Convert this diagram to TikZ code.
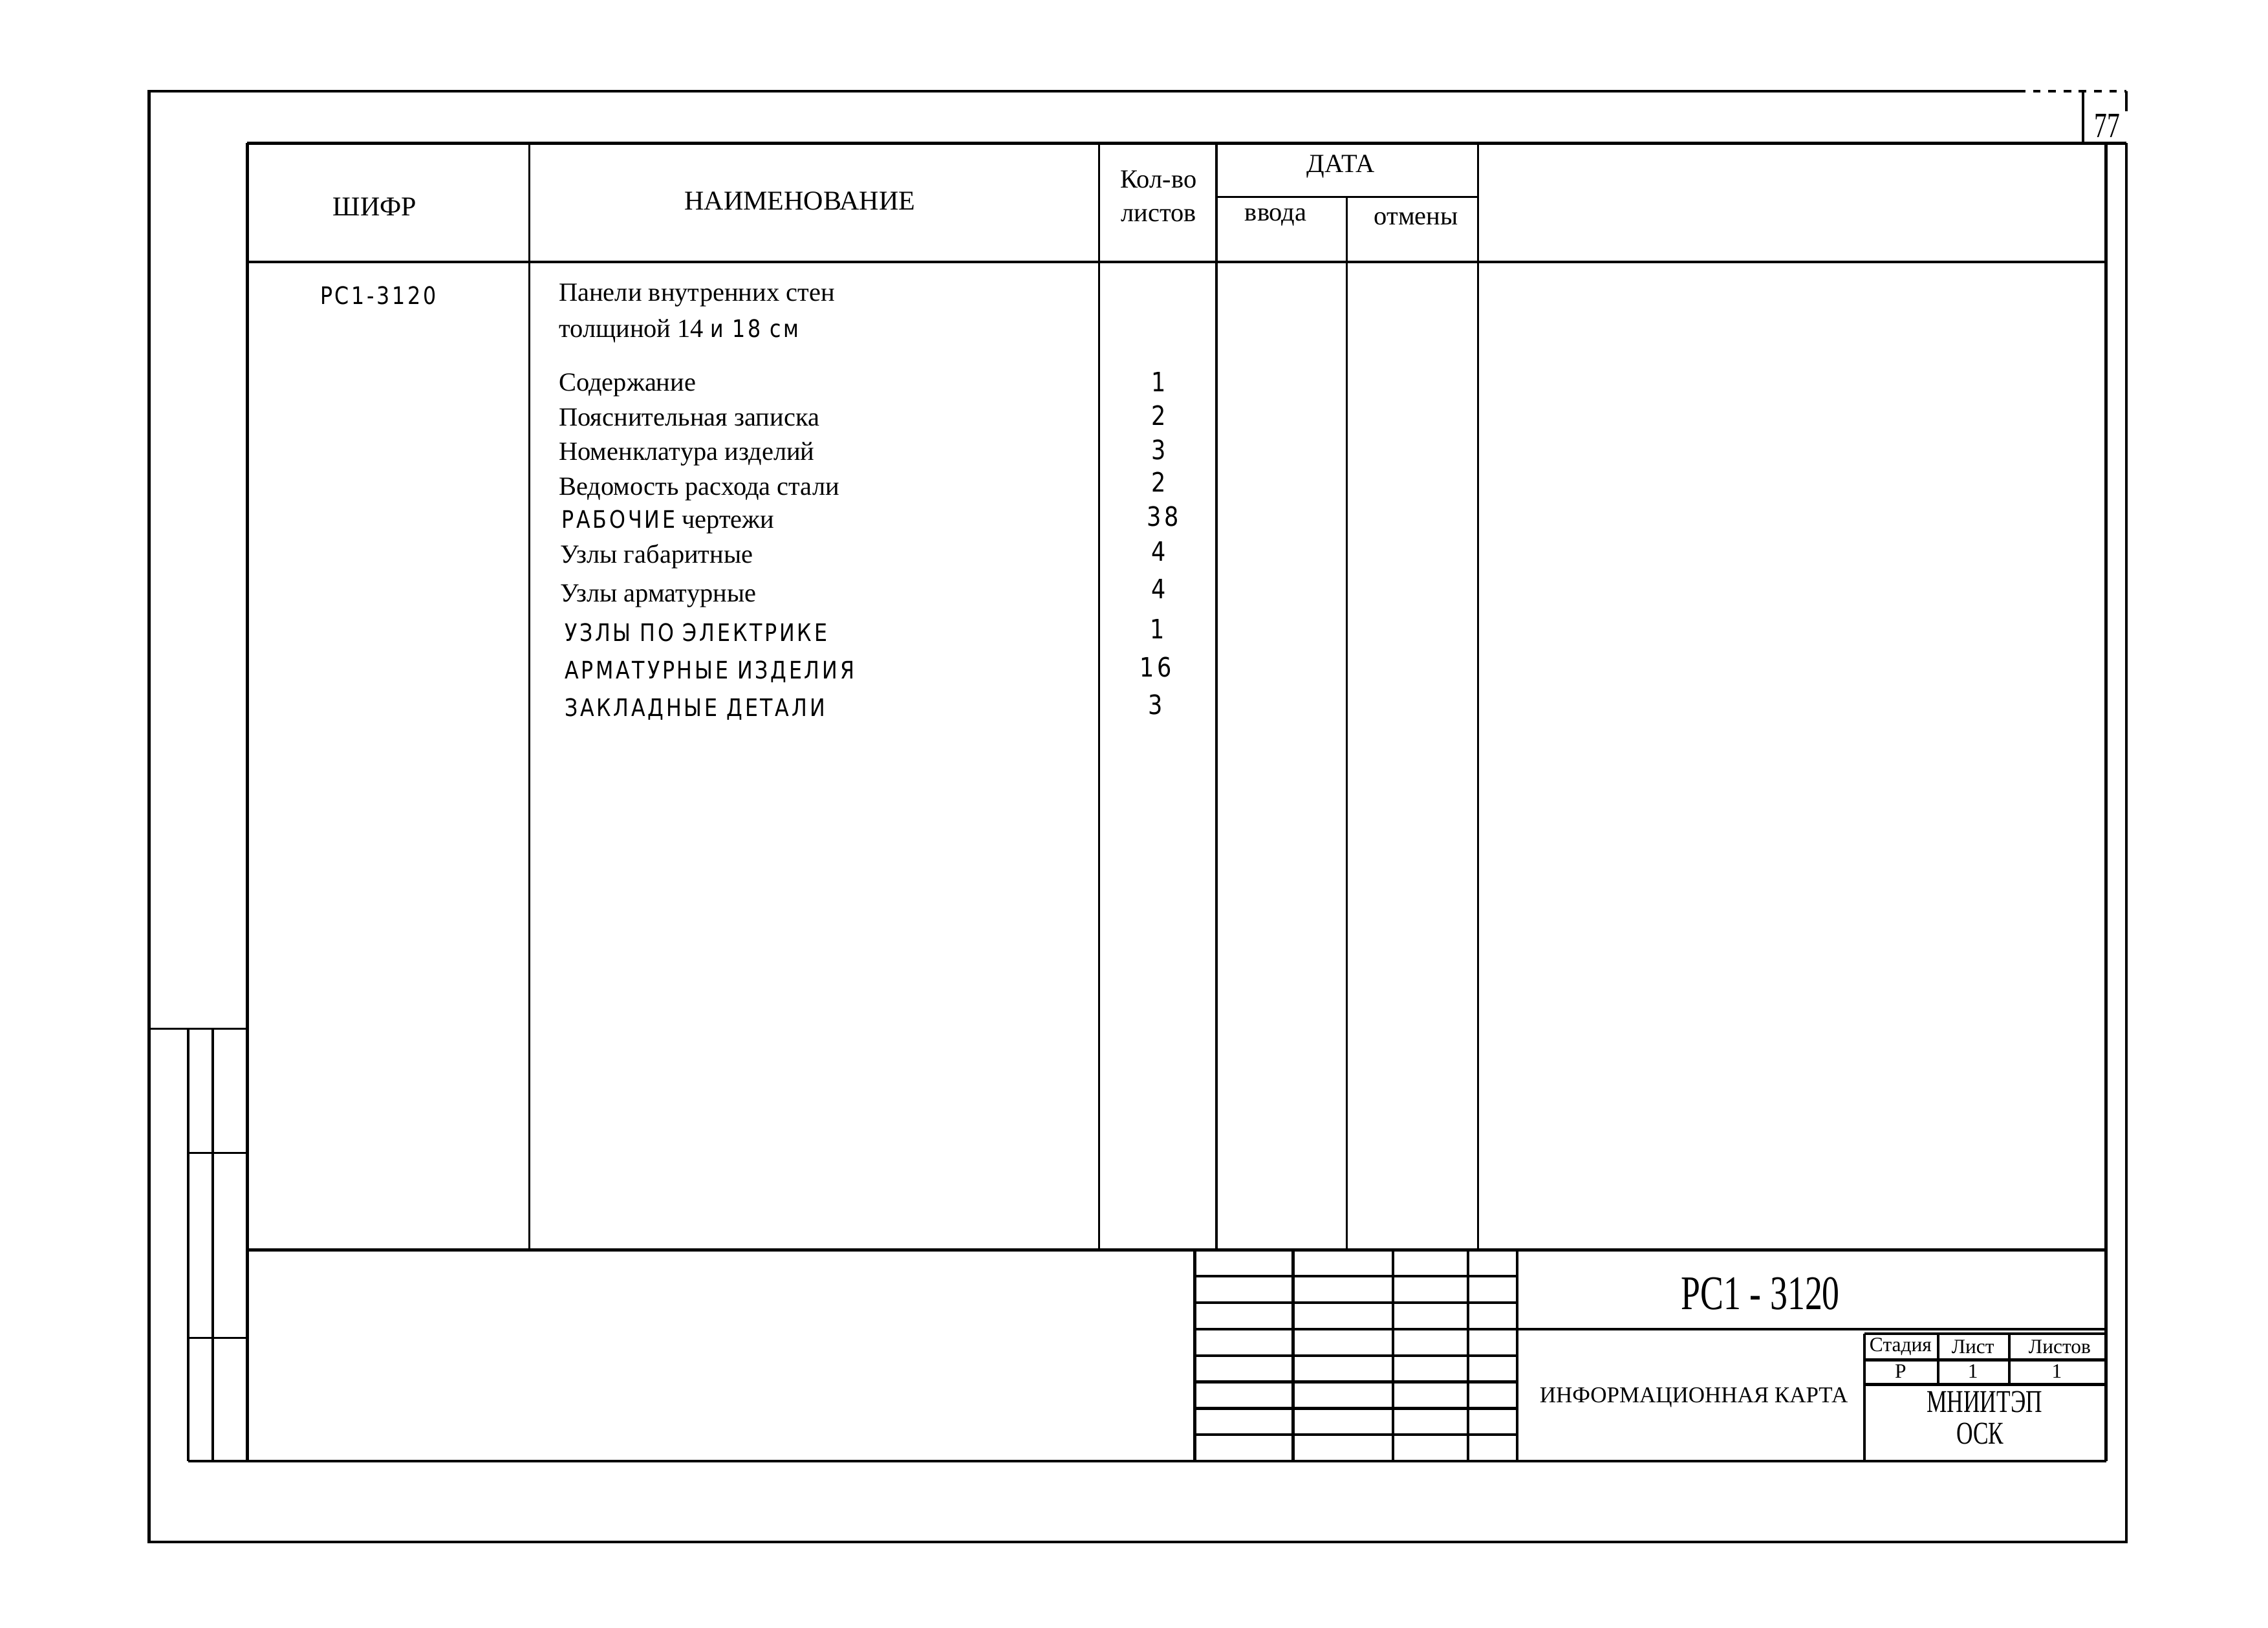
\documentclass[tikz,border=0pt]{standalone}
\usepackage{fontspec}
\setmainfont{Liberation Serif}
\newfontfamily\handfont[LetterSpace=10,FakeStretch=0.85]{DejaVu Sans}
\newfontfamily\narrowfont[FakeStretch=0.72]{Liberation Serif}
\newcommand\hw{\handfont\fontsize{9.5}{11}\selectfont}
\usetikzlibrary{positioning}

\begin{document}
\begin{tikzpicture}[x=0.02cm,y=-0.02cm,
    frame/.style={line width=1.1pt},
    thin/.style={line width=0.8pt},
    head/.style={font=\fontsize{10.3}{12}\selectfont,inner sep=0pt},
    item/.style={anchor=west,font=\fontsize{10.3}{12}\selectfont,inner sep=0pt,text height=1.6ex,text depth=.3ex},
    hand/.style={anchor=west,font=\hw,inner sep=0pt,text height=1.6ex,text depth=.3ex},
    num/.style={font=\handfont\fontsize{10.5}{12}\selectfont,inner sep=0pt},
    small/.style={font=\fontsize{8}{9}\selectfont,inner sep=0pt},
    org/.style={font=\narrowfont\fontsize{12.5}{14}\selectfont,inner sep=0pt}]
      \useasboundingbox (0,0) rectangle (1568,1125);

      % outer frame
      \draw[frame] (1395,63) -- (103,63) -- (103,1066) -- (1470,1066) -- (1470,99);
      \draw[frame,dashed] (1395,63) -- (1470,63);
      \draw[frame] (1470,63) -- (1470,77);
      \draw[frame] (1440,63) -- (1440,99);
      \node[font=\narrowfont\fontsize{14}{16}\selectfont,inner sep=0pt] (sheet) at (1457,87) {77};

      % table frame
      \draw[frame] (171,99) -- (1470,99);
      \draw[frame] (171,99) -- (171,1010);
      \draw[frame] (1456,99) -- (1456,1010);
      \draw[frame] (171,181) -- (1456,181);
      \foreach \x in {366,760,841,1022}
        \draw[thin] (\x,99) -- (\x,864);
      \draw[thin] (931,136) -- (931,864);
      \draw[thin] (841,136) -- (1022,136);

      % left stamp
      \draw[thin] (103,711) -- (171,711);
      \draw[frame] (130,711) -- (130,1010);
      \draw[frame] (147,711) -- (147,1010);
      \draw[thin] (130,797) -- (171,797);
      \draw[thin] (130,925) -- (171,925);

      % title block
      \draw[frame] (171,864) -- (1456,864);
      \draw[frame] (130,1010) -- (1456,1010);
      \foreach \x in {826,894,963,1015,1049}
        \draw[frame] (\x,864) -- (\x,1010);
      \foreach \k in {1,...,7}
        \draw[frame] (826,864+\k*18.25) -- (1049,864+\k*18.25);
      \draw[frame] (1049,918.75) -- (1456,918.75);
      \draw[frame] (1289,922) -- (1456,922);
      \draw[frame] (1289,940) -- (1456,940);
      \draw[frame] (1289,957) -- (1456,957);
      \draw[frame] (1289,922) -- (1289,1010);
      \draw[frame] (1340,922) -- (1340,957);
      \draw[frame] (1389,922) -- (1389,957);

      % header
      \node[head,font=\fontsize{10.7}{12}\selectfont] (shifr) at (259,143) {ШИФР};
      \node[head,font=\fontsize{10.7}{12}\selectfont] (naim) at (553,139) {НАИМЕНОВАНИЕ};
      \node[head] (kolvo) at (801,124) {Кол-во};
      \node[head] (listov) at (801,149) {листов};
      \node[head] (data) at (927,115) {ДАТА};
      \node[head] (vvoda) at (882,150) {ввода};
      \node[head] (otmeny) at (979,151) {отмены};

      % contents
      \node[hand] (code) at (221,205) {РС1-3120};
      \node[item] (r1) at (386,203) {Панели внутренних стен};
      \node[item] (r2) at (386,228) {толщиной 14 {\hw и 18 см}};
      \node[item] (r3) at (386,265) {Содержание};
      \node[item] (r4) at (386,289) {Пояснительная записка};
      \node[item] (r5) at (386,313) {Номенклатура изделий};
      \node[item] (r6) at (386,337) {Ведомость расхода стали};
      \node[item] (r7) at (388,360) {{\hw РАБОЧИЕ} чертежи};
      \node[item] (r8) at (387,384) {Узлы габаритные};
      \node[item] (r9) at (387,411) {Узлы арматурные};
      \node[hand] (r10) at (390,438) {УЗЛЫ ПО ЭЛЕКТРИКЕ};
      \node[hand] (r11) at (390,464) {АРМАТУРНЫЕ ИЗДЕЛИЯ};
      \node[hand] (r12) at (390,490) {ЗАКЛАДНЫЕ ДЕТАЛИ};
      \node[num] (n3) at (801,264) {1};
      \node[num] (n4) at (801,287) {2};
      \node[num] (n5) at (801,311) {3};
      \node[num] (n6) at (801,333) {2};
      \node[num] (n7) at (804,357) {38};
      \node[num] (n8) at (801,381) {4};
      \node[num] (n9) at (801,407) {4};
      \node[num] (n10) at (800,435) {1};
      \node[num] (n11) at (799,461) {16};
      \node[num] (n12) at (799,487) {3};

      % stamp texts
      \node[font=\narrowfont\fontsize{19}{21}\selectfont,inner sep=0pt] (title) at (1217,894) {РС1 - 3120};
      \node[font=\fontsize{8.9}{11}\selectfont,inner sep=0pt] (kind) at (1171,966) {ИНФОРМАЦИОННАЯ КАРТА};
      \node[small] (stage) at (1314,931) {Стадия};
      \node[small] (sh) at (1364,931) {Лист};
      \node[small] (shs) at (1424,931) {Листов};
      \node[small] (stagev) at (1314,948) {Р};
      \node[small] (shv) at (1364,948) {1};
      \node[small] (shsv) at (1422,948) {1};
      \node[org] (mniitep) at (1372,969) {МНИИТЭП};
      \node[org] (osk) at (1369,991) {ОСК};
    \end{tikzpicture}
\end{document}
